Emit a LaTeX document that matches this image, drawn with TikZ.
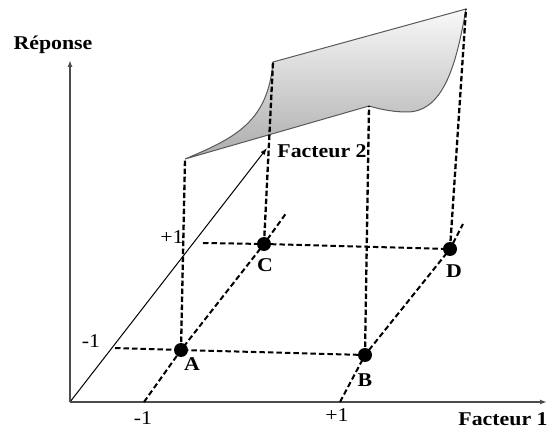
\documentclass[tikz,border=0pt]{standalone}
\usepackage{fontspec}
\setmainfont{Liberation Serif}
\newfontfamily\lblfont[FakeStretch=1.12]{Liberation Serif}
\usetikzlibrary{arrows.meta}
\begin{document}
\begin{tikzpicture}[x=1pt,y=-1pt,
  axis/.style={draw=black!70,line width=2pt,-{Latex[length=7pt,width=5pt]}},
  faxis/.style={draw=black,line width=1pt,-{Latex[length=7pt,width=5pt]}},
  gridline/.style={draw=black,line width=2pt,dash pattern=on 5.5pt off 3pt},
  vline/.style={draw=black,line width=2.3pt,dash pattern=on 5.5pt off 2.5pt},
  dot/.style={circle,fill=black,inner sep=0pt,minimum size=14pt},
  lbl/.style={font=\lblfont\fontsize{19.5}{19.5}\selectfont\bfseries,inner sep=0pt},
  num/.style={font=\lblfont\fontsize{19.5}{19.5}\selectfont,inner sep=0pt}]
\useasboundingbox (0,0) rectangle (547,430);
% surface corners
\coordinate (S1) at (185,159);
\coordinate (S2) at (273,62);
\coordinate (S3) at (466,9);
\coordinate (S4) at (369,106);
\shade[top color=gray!5,bottom color=gray!65,draw=black!65,line width=1pt]
  (S1) .. controls (235,138) and (268,122) .. (S2) -- (S3)
  .. controls (457,60) and (445,112) .. (407,112)
  .. controls (390,112) and (376,108) .. (S4) -- cycle;
% axes
\coordinate (O) at (70,402);
\coordinate (Ytop) at (70,60);
\coordinate (Xend) at (547,402);
\coordinate (F2) at (267,148);
\draw[faxis] (O) -- (F2);
\draw[axis] (O) -- (Ytop);
\draw[axis] (O) -- (Xend);
% points
\node[dot] (A) at (181,350) {};
\node[dot] (B) at (365,355) {};
\node[dot] (C) at (264,244) {};
\node[dot] (D) at (450,249) {};
% grid lines
\coordinate (m1bot) at (144,402);
\coordinate (m1top) at (287,212);
\coordinate (p1bot) at (340,402);
\coordinate (p1top) at (463,224);
\coordinate (hm1) at (115,348);
\coordinate (hp1) at (203,243);
\draw[gridline] (m1bot) -- (A.center) -- (C.center) -- (m1top);
\draw[gridline] (p1bot) -- (B.center) -- (D.center) -- (p1top);
\draw[gridline] (hm1) -- (A.center) -- (B.center);
\draw[gridline] (hp1) -- (C.center) -- (D.center);
% verticals
\draw[vline] (A.center) -- (S1);
\draw[vline] (C.center) -- (S2);
\draw[vline] (B.center) -- (S4);
\draw[vline] (D.center) -- (S3);
% labels
\node[lbl] (lresp) at (53,45) {Réponse};
\node[lbl] (lf1) at (503,419) {Facteur 1};
\node[lbl] (lf2) at (322,151) {Facteur 2};
\node[lbl] (lA) at (192,364) {A};
\node[lbl] (lB) at (365,380) {B};
\node[lbl] (lC) at (265,265) {C};
\node[lbl] (lD) at (454,271) {D};
\node[num] (n1) at (91,341) {-1};
\node[num] (n2) at (172,237) {+1};
\node[num] (n3) at (143,418) {-1};
\node[num] (n4) at (337,415) {+1};
\end{tikzpicture}
\end{document}
